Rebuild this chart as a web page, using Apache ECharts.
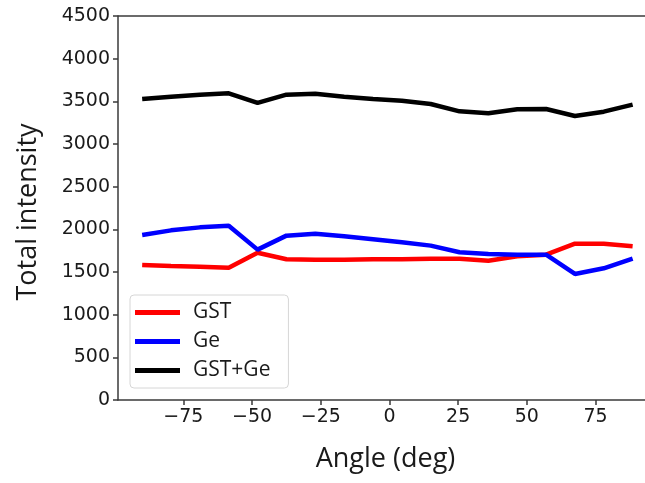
<!DOCTYPE html>
<html>
<head>
<meta charset="utf-8">
<script src="https://cdn.jsdelivr.net/npm/echarts@6/dist/echarts.min.js"></script>
<style>
  html, body { margin: 0; padding: 0; background: #fff; overflow: hidden; }
  #chart { width: 645px; height: 483px; }
</style>
</head>
<body>
<div id="chart"></div>
<script>
// angles (deg) at which the three curves were sampled
var angles = [-90, -79.5, -69, -58.5, -48, -37.5, -27, -16.5, -6, 4.5, 15, 25.5, 36, 46.5, 57, 67.5, 78, 88.5];
var gst    = [1582, 1570, 1562, 1551, 1726, 1649, 1645, 1645, 1649, 1649, 1656, 1656, 1633, 1684, 1703, 1832, 1832, 1801];
var ge     = [1934, 1988, 2023, 2043, 1762, 1926, 1949, 1918, 1883, 1848, 1809, 1731, 1711, 1703, 1703, 1477, 1543, 1656];
var gstGe  = [3527, 3555, 3578, 3594, 3481, 3578, 3590, 3555, 3527, 3508, 3469, 3383, 3360, 3407, 3410, 3328, 3379, 3461];
var xTicks = [-75, -50, -25, 0, 25, 50, 75];

function pairs(ys) {
  return angles.map(function (a, i) { return [a, ys[i]]; });
}

var chart = echarts.init(document.getElementById('chart'));
var axisColor = '#3a3a3a';
var textColor = '#1a1a1a';

chart.setOption({
  animation: false,
  grid: { left: 118, right: 0, top: 16, bottom: 83 },
  legend: {
    orient: 'vertical',
    left: 130,
    top: 295,
    icon: 'rect',
    itemWidth: 45,
    itemHeight: 5,
    itemGap: 8,
    padding: [7, 18, 7, 5],
    borderColor: '#d6d6d6',
    borderWidth: 1,
    borderRadius: 4,
    backgroundColor: '#fff',
    textStyle: { fontFamily: 'Open Sans', fontSize: 21, color: textColor, lineHeight: 21, padding: [0, 0, 0, 8] },
    data: ['GST', 'Ge', 'GST+Ge']
  },
  xAxis: {
    type: 'value',
    min: -98.8,
    max: 93,
    name: 'Angle (deg)',
    nameLocation: 'middle',
    nameGap: 46,
    nameTextStyle: { fontFamily: 'Open Sans', fontSize: 27, color: textColor, padding: [0, 0, 0, 8] },
    axisLine: { show: true, onZero: false, lineStyle: { color: axisColor, width: 1.5 } },
    axisTick: { show: true, length: 5, customValues: xTicks, lineStyle: { color: axisColor, width: 1.5 } },
    axisLabel: {
      customValues: xTicks,
      margin: 8,
      fontFamily: 'DejaVu Sans',
      fontSize: 19,
      color: textColor,
      formatter: function (v) { return String(v).replace('-', '\u2212'); }
    },
    splitLine: { show: false }
  },
  yAxis: {
    type: 'value',
    min: 0,
    max: 4500,
    interval: 500,
    name: 'Total intensity',
    nameLocation: 'middle',
    nameGap: 76,
    nameTextStyle: { fontFamily: 'Open Sans', fontSize: 27, color: textColor, padding: [0, 8, 0, 0] },
    axisLine: { show: true, onZero: false, lineStyle: { color: axisColor, width: 1.5 } },
    axisTick: { show: true, length: 5, lineStyle: { color: axisColor, width: 1.5 } },
    axisLabel: {
      margin: 8,
      fontFamily: 'DejaVu Sans',
      fontSize: 19,
      color: textColor,
      formatter: function (v) { return String(v); }
    },
    splitLine: { show: false }
  },
  series: [
    { name: 'GST', type: 'line', data: pairs(gst), showSymbol: false, color: '#ff0000', lineStyle: { width: 4.5, color: '#ff0000' } },
    { name: 'Ge', type: 'line', data: pairs(ge), showSymbol: false, color: '#0000ff', lineStyle: { width: 4.5, color: '#0000ff' } },
    { name: 'GST+Ge', type: 'line', data: pairs(gstGe), showSymbol: false, color: '#000000', lineStyle: { width: 4.5, color: '#000000' } }
  ],
  graphic: [
    { type: 'line', shape: { x1: 118, y1: 16, x2: 645, y2: 16 }, style: { stroke: axisColor, lineWidth: 1.5 }, silent: true }
  ]
});
</script>
</body>
</html>
